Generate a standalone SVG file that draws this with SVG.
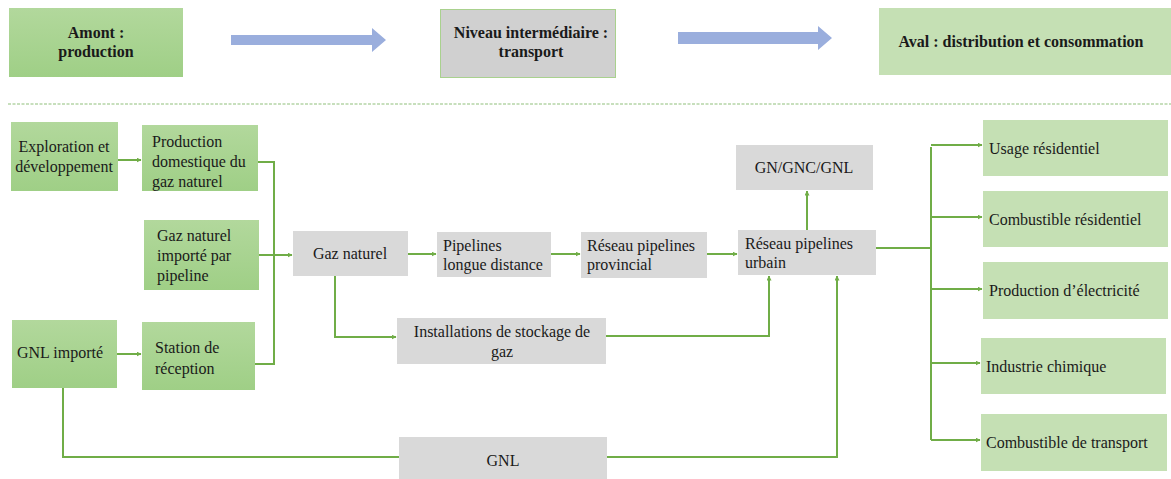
<svg xmlns="http://www.w3.org/2000/svg" width="1171" height="479" viewBox="0 0 1171 479">
<defs>
<marker id="ah" viewBox="0 0 10 10" refX="9" refY="5" markerWidth="5" markerHeight="5" orient="auto" markerUnits="userSpaceOnUse"><path d="M0,0 L10,5 L0,10 z" fill="#70ad47"/></marker>
<linearGradient id="gg" x1="0" y1="0" x2="0" y2="1"><stop offset="0" stop-color="#b2d89c"/><stop offset="1" stop-color="#9fcf86"/></linearGradient>
</defs>
<style>
.t{font-size:16px;fill:#1a1a1a}
.b{font-weight:bold;font-size:16px}
.g{fill:url(#gg)}
.lg{fill:#c5e0b4}
.gr{fill:#d9d9d9}
.c{fill:none;stroke:#70ad47;stroke-width:2}
.a{marker-end:url(#ah)}
.bar{fill:#9aaedd}
</style>
<rect width="1171" height="479" fill="#ffffff"/>
<g class="t" font-family="Liberation Serif, Times New Roman, DejaVu Serif, serif">
<g id="amont"><rect class="g" x="9" y="8" width="174" height="69"/><text class="b" x="96" y="38" text-anchor="middle">Amont :</text><text class="b" x="96" y="57" text-anchor="middle">production</text></g>
<g id="arrow1"><path class="bar" d="M231,35 H372 V28 L386,40 L372,52 V45 H231 z"/></g>
<g id="niveau"><rect x="440.5" y="9.5" width="175" height="68" fill="#d0d0d0" stroke="#a9d18e" stroke-width="1"/><text class="b" x="531" y="38" text-anchor="middle">Niveau intermédiaire :</text><text class="b" x="531" y="57" text-anchor="middle">transport</text></g>
<g id="arrow2"><path class="bar" d="M678,32 H818 V26 L832,38 L818,50 V44 H678 z"/></g>
<g id="aval"><rect class="lg" x="879" y="8" width="292" height="67"/><text class="b" x="1021" y="47" text-anchor="middle">Aval : distribution et consommation</text></g>
<line x1="8" y1="104" x2="1171" y2="104" stroke="#8fbf7a" stroke-width="1" stroke-dasharray="3,1.5"/>

<g id="connectors">
<path class="c a" d="M118,160 H141"/>
<path class="c" d="M258,162 H274 V364 H255"/>
<path class="c a" d="M259,255 H292"/>
<path class="c a" d="M117,354 H141"/>
<path class="c a" d="M408,254 H436"/>
<path class="c a" d="M551,254 H580"/>
<path class="c a" d="M707,254 H737"/>
<path class="c a" d="M807,230 V191"/>
<path class="c a" d="M335,276 V337 H396"/>
<path class="c a" d="M606,336 H769 V276"/>
<path class="c a" d="M63,388 V457 H837 V276"/>
<path class="c" d="M876,248 H931"/>
<path class="c" d="M931,147 V440"/>
<path class="c a" d="M931,145 H982"/>
<path class="c a" d="M931,217 H982"/>
<path class="c a" d="M931,289 H982"/>
<path class="c a" d="M931,363 H980"/>
<path class="c a" d="M931,440 H980"/>
</g>

<g id="exploration"><rect class="g" x="11" y="122" width="107" height="69"/><text x="64" y="152" text-anchor="middle">Exploration et</text><text x="64" y="172" text-anchor="middle">développement</text></g>
<g id="production"><rect class="g" x="142" y="125" width="116" height="66"/><text x="152" y="147">Production</text><text x="152" y="167">domestique du</text><text x="152" y="187">gaz naturel</text></g>
<g id="importe"><rect class="g" x="144" y="220" width="115" height="70"/><text x="157" y="241">Gaz naturel</text><text x="157" y="261">importé par</text><text x="157" y="281">pipeline</text></g>
<g id="gnlimporte"><rect class="g" x="12" y="320" width="105" height="68"/><text x="17" y="358">GNL importé</text></g>
<g id="station"><rect class="g" x="142" y="322" width="113" height="68"/><text x="155" y="353">Station de</text><text x="155" y="374">réception</text></g>
<g id="gaznaturel"><rect class="gr" x="293" y="231" width="115" height="45"/><text x="350" y="259" text-anchor="middle">Gaz naturel</text></g>
<g id="pipelines"><rect class="gr" x="437" y="232" width="114" height="45"/><text x="443" y="251">Pipelines</text><text x="443" y="270">longue distance</text></g>
<g id="provincial"><rect class="gr" x="581" y="232" width="126" height="46"/><text x="587" y="251">Réseau pipelines</text><text x="587" y="270">provincial</text></g>
<g id="urbain"><rect class="gr" x="738" y="230" width="138" height="45"/><text x="745" y="249">Réseau pipelines</text><text x="745" y="268">urbain</text></g>
<g id="gngnc"><rect class="gr" x="736" y="145" width="137" height="45"/><text x="804" y="173" text-anchor="middle">GN/GNC/GNL</text></g>
<g id="stockage"><rect class="gr" x="397" y="318" width="209" height="46"/><text x="502" y="337" text-anchor="middle">Installations de stockage de</text><text x="502" y="357" text-anchor="middle">gaz</text></g>
<g id="gnl"><rect class="gr" x="399" y="437" width="208" height="42"/><text x="503" y="466" text-anchor="middle">GNL</text></g>
<g id="usage"><rect class="lg" x="983" y="120" width="185" height="56"/><text x="989" y="154">Usage résidentiel</text></g>
<g id="combres"><rect class="lg" x="983" y="191" width="185" height="56"/><text x="989" y="225">Combustible résidentiel</text></g>
<g id="electricite"><rect class="lg" x="983" y="262" width="185" height="57"/><text x="989" y="296">Production d’électricité</text></g>
<g id="chimique"><rect class="lg" x="981" y="338" width="185" height="56"/><text x="986" y="372">Industrie chimique</text></g>
<g id="transport"><rect class="lg" x="981" y="414" width="186" height="57"/><text x="986" y="448">Combustible de transport</text></g>
</g>
</svg>
